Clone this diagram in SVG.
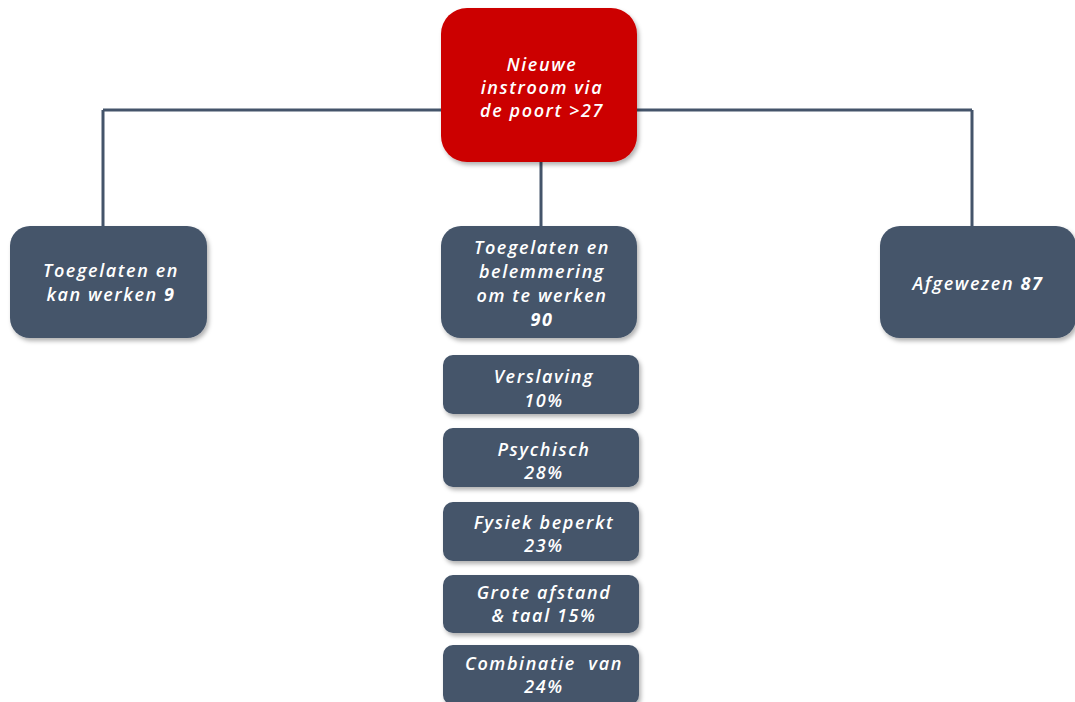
<svg xmlns="http://www.w3.org/2000/svg" width="1075" height="702" viewBox="0 0 1075 702">
<style>
.n{fill:#44546A;filter:url(#sh)}
.r{fill:#CC0000;filter:url(#sh)}
.t{fill:#fff;font-family:"Open Sans","DejaVu Sans",sans-serif;font-style:italic;font-weight:600;font-size:18px;letter-spacing:1.6px;text-anchor:middle}
.b{font-weight:700}
.c{stroke:#44546A;stroke-width:3;fill:none}
</style>
<defs>
<filter id="sh" x="-10%" y="-10%" width="125%" height="130%">
<feDropShadow dx="2" dy="3" stdDeviation="2" flood-color="#000" flood-opacity="0.3"/>
</filter>
</defs>
<rect width="1075" height="702" fill="#fff"/>
<g id="connectors">
<path class="c" d="M103,110 H972 M103,110 V226 M972,110 V226 M541,160 V226"/>
</g>
<g id="root">
<rect class="r" x="441" y="8" width="196" height="154" rx="26"/>
<text class="t"><tspan x="542" y="71">Nieuwe</tspan><tspan x="542" y="94">instroom via</tspan><tspan x="542" y="117">de poort &gt;27</tspan></text>
</g>
<g id="left">
<rect class="n" x="10" y="226" width="197" height="112" rx="20"/>
<text class="t"><tspan x="111" y="277">Toegelaten en</tspan><tspan x="111" y="301">kan werken <tspan class="b">9</tspan></tspan></text>
</g>
<g id="middle">
<rect class="n" x="441" y="226" width="196" height="112" rx="20"/>
<text class="t"><tspan x="542" y="254">Toegelaten en</tspan><tspan x="542" y="278">belemmering</tspan><tspan x="542" y="302">om te werken</tspan><tspan x="542" y="326" class="b">90</tspan></text>
</g>
<g id="right">
<rect class="n" x="880" y="226" width="196" height="112" rx="20"/>
<text class="t"><tspan x="978" y="290">Afgewezen <tspan class="b">87</tspan></tspan></text>
</g>
<g id="verslaving">
<rect class="n" x="443" y="355" width="196" height="59" rx="10"/>
<text class="t"><tspan x="544" y="383">Verslaving</tspan><tspan x="544" y="407">10%</tspan></text>
</g>
<g id="psychisch">
<rect class="n" x="443" y="428" width="196" height="59" rx="10"/>
<text class="t"><tspan x="544" y="456">Psychisch</tspan><tspan x="544" y="479">28%</tspan></text>
</g>
<g id="fysiek">
<rect class="n" x="443" y="502" width="196" height="59" rx="10"/>
<text class="t"><tspan x="544" y="529">Fysiek beperkt</tspan><tspan x="544" y="552">23%</tspan></text>
</g>
<g id="afstand">
<rect class="n" x="443" y="575" width="196" height="58" rx="10"/>
<text class="t"><tspan x="544" y="599">Grote afstand</tspan><tspan x="544" y="622">&amp; taal 15%</tspan></text>
</g>
<g id="combinatie">
<rect class="n" x="443" y="645" width="196" height="60" rx="10"/>
<text class="t"><tspan x="544" y="670">Combinatie&#160; van</tspan><tspan x="544" y="693">24%</tspan></text>
</g>
</svg>
